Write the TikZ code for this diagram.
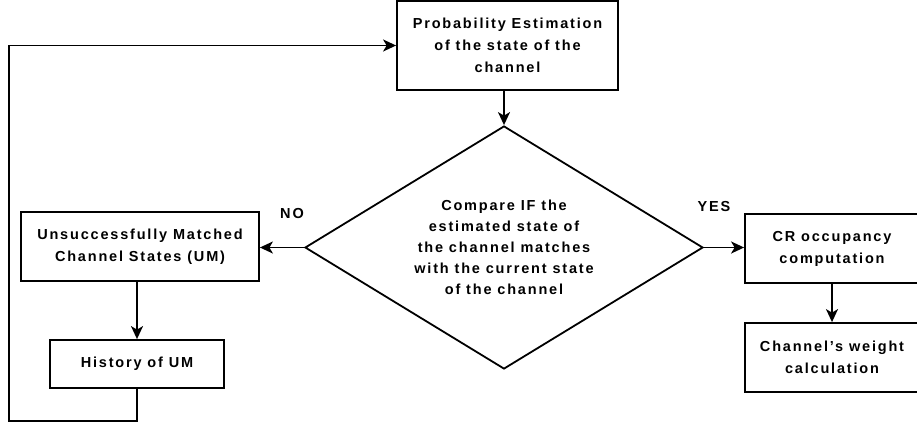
\documentclass[tikz,border=0pt]{standalone}
\usepackage{fontspec}
\setmainfont{Liberation Sans}[LetterSpace=12.5]
\usetikzlibrary{shapes.geometric,arrows.meta}
\begin{document}
\begin{tikzpicture}[x=1pt,y=-1pt,font=\bfseries\fontsize{14.5}{22}\selectfont] % блок-схема
\tikzstyle{mybox} = [draw, line width=1.8pt, rectangle, align=center, inner sep=0pt] % rectangular block style
\tikzstyle{mydia} = [draw, line width=1.8pt, diamond, aspect=1.64, align=center, inner sep=0pt, minimum width=398pt, minimum height=243pt, font=\bfseries\fontsize{14.5}{21}\selectfont] % decision block style
\tikzstyle{myarrow} = [line width=1.8pt, -{Stealth[length=13pt,width=12pt,inset=3.5pt]}] % стрелка
\useasboundingbox (0,0) rectangle (917,426);

\node[mybox, minimum width=221pt, minimum height=89pt] (est) at (507.5,45.5) {Probability Estimation\\of the state of the\\channel};
\node[mydia] (cmp) at (504,247.5) {Compare IF the\\estimated state of\\the channel matches\\with the current state\\of the channel};
\node[mybox, minimum width=238pt, minimum height=69pt] (um) at (140,246.5) {Unsuccessfully Matched\\Channel States (UM)};
\node[mybox, minimum width=174pt, minimum height=48pt] (hist) at (137,364) {History of UM};
\node[mybox, minimum width=174pt, minimum height=69pt] (cr) at (832,248.5) {CR occupancy\\computation};
\node[mybox, minimum width=174pt, minimum height=69pt] (wt) at (832,357.5) {Channel’s weight\\calculation};
\node (no) at (292,214) {NO}; % пометки ветвей
\node (yes) at (714,207) {YES};
\coordinate (loop) at (9,421); % угол обратной связи

\draw[myarrow] (est.south -| cmp.north) -- (cmp.north);
\draw[myarrow] (cmp.west) -- (um.east |- cmp.west);
\draw[myarrow] (cmp.east) -- (cr.west |- cmp.east);
\draw[myarrow] (um.south -| hist.north) -- (hist.north);
\draw[myarrow] (cr.south) -- (wt.north);
\draw[myarrow] (hist.south) |- (loop) |- (est.west);
\end{tikzpicture}
\end{document}
